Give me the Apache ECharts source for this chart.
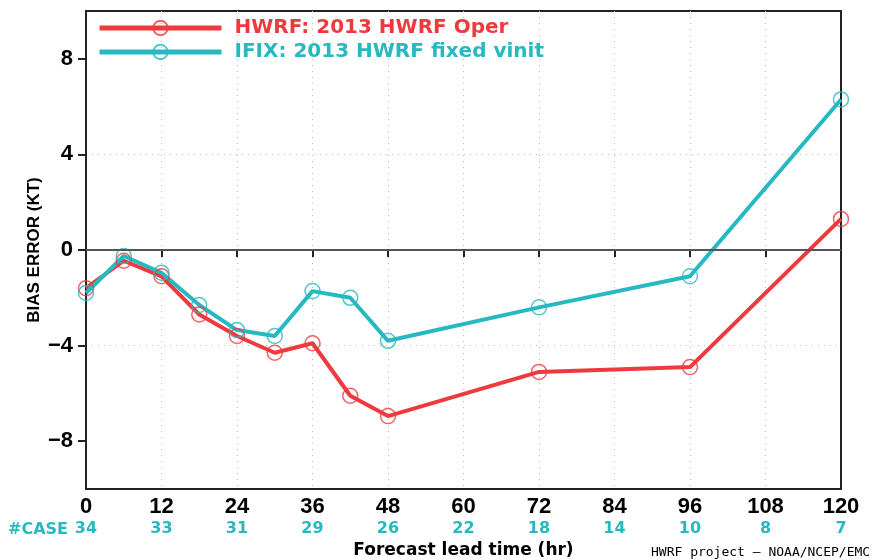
<!DOCTYPE html>
<html>
<head>
<meta charset="utf-8">
<title>HWRF bias error</title>
<script src="https://cdn.jsdelivr.net/npm/echarts@6/dist/echarts.min.js"></script>
<style>
  html, body { margin: 0; padding: 0; background: #fff; }
  #chart { width: 872px; height: 560px; }
</style>
</head>
<body>
<div id="chart"></div>
<script>
// Forecast lead times (hr) at which both runs were verified
const leadTimes = [0, 6, 12, 18, 24, 30, 36, 42, 48, 72, 96, 120];
// Intensity bias error (kt)
const hwrfOper = [-1.6, -0.45, -1.1, -2.7, -3.6, -4.3, -3.9, -6.1, -6.95, -5.1, -4.9, 1.3];
const ifixVinit = [-1.8, -0.25, -0.95, -2.3, -3.35, -3.6, -1.72, -2.0, -3.8, -2.4, -1.1, 6.3];
// Tick positions and number of verifying cases under each x tick
const xTicks = [0, 12, 24, 36, 48, 60, 72, 84, 96, 108, 120];
const caseCounts = [34, 33, 31, 29, 26, 22, 18, 14, 10, 8, 7];
const yTicks = [-8, -4, 0, 4, 8];

const RED = '#ee3a3e';
const CYAN = '#27b9c1';

const pairs = (xs, ys) => xs.map((x, i) => [x, ys[i]]);

const chart = echarts.init(document.getElementById('chart'));

const tickFont = { fontFamily: 'Liberation Sans', fontWeight: 'bold', fontSize: 22, color: '#000' };

function lineSeries(name, color, values) {
  return {
    name: name,
    type: 'line',
    data: pairs(leadTimes, values),
    symbol: 'circle',
    symbolSize: 15,
    showSymbol: true,
    lineStyle: { color: color, width: 4 },
    itemStyle: { color: 'rgba(255,255,255,0)', borderColor: color, borderWidth: 1.5, opacity: 0.8 },
    emphasis: { disabled: true },
    animation: false
  };
}

const seriesOper = lineSeries('HWRF: 2013 HWRF Oper', RED, hwrfOper);
seriesOper.markLine = {
  silent: true,
  symbol: 'none',
  label: { show: false },
  lineStyle: { color: '#555', width: 2, type: 'solid' },
  data: [{ yAxis: 0 }]
};
const seriesIfix = lineSeries('IFIX: 2013 HWRF fixed vinit', CYAN, ifixVinit);

const gridLine = { show: true, showMinLine: false, showMaxLine: false, lineStyle: { color: '#bbb', width: 1, type: [1, 5] } };

chart.setOption({
  backgroundColor: '#fff',
  animation: false,
  grid: {
    left: 86, right: 31, top: 11, bottom: 71,
    outerBoundsMode: 'none',
    containLabel: false,
    show: true, borderColor: '#222', borderWidth: 2, backgroundColor: 'transparent'
  },
  legend: {
    left: 97, top: 18,
    padding: 0,
    orient: 'vertical',
    itemWidth: 122, itemHeight: 18, itemGap: 4,
    selectedMode: false,
    lineStyle: { width: 5 },
    textStyle: { fontFamily: 'DejaVu Sans', fontWeight: 'bold', fontSize: 20, padding: [0, 0, 0, 8] },
    data: [
      { name: 'HWRF: 2013 HWRF Oper', textStyle: { color: RED } },
      { name: 'IFIX: 2013 HWRF fixed vinit', textStyle: { color: CYAN } }
    ]
  },
  xAxis: {
    type: 'value',
    min: 0, max: 120, interval: 12,
    axisLine: { show: true, lineStyle: { color: '#222', width: 2 } },
    axisTick: { show: true, inside: false, length: 7, lineStyle: { color: '#222', width: 2 } },
    splitLine: gridLine,
    axisLabel: {
      margin: 7,
      formatter: function (v) {
        const i = xTicks.indexOf(v);
        return '{t|' + v + '}\n{c|' + (i >= 0 ? caseCounts[i] : '') + '}';
      },
      rich: {
        t: Object.assign({ lineHeight: 22 }, tickFont),
        c: { fontFamily: 'DejaVu Sans', fontWeight: 'bold', fontSize: 16, color: CYAN, lineHeight: 22 }
      }
    },
    name: 'Forecast lead time (hr)',
    nameLocation: 'middle',
    nameGap: 53,
    nameMoveOverlap: false,
    nameTextStyle: { fontFamily: 'DejaVu Sans', fontWeight: 'bold', fontSize: 17, color: '#000' }
  },
  yAxis: {
    type: 'value',
    min: -10, max: 10,
    axisLine: { show: true, lineStyle: { color: '#222', width: 2 } },
    axisTick: { show: true, inside: false, length: 8, customValues: yTicks, lineStyle: { color: '#222', width: 2 } },
    splitLine: gridLine,
    axisLabel: Object.assign({
      margin: 13,
      customValues: yTicks,
      formatter: function (v) { return v < 0 ? '\u2212' + Math.abs(v) : String(v); }
    }, tickFont),
    name: 'BIAS ERROR (KT)',
    nameLocation: 'middle',
    nameGap: 43,
    nameMoveOverlap: false,
    nameRotate: 90,
    nameTextStyle: { fontFamily: 'Liberation Sans', fontWeight: 'bold', fontSize: 17, color: '#000' }
  },
  graphic: [
    {
      type: 'text', left: 8, top: 522,
      style: { text: '#CASE', fill: CYAN, font: 'bold 16px "DejaVu Sans"' }
    },
    {
      type: 'text', left: 651, top: 546,
      style: { text: 'HWRF project \u2014 NOAA/NCEP/EMC', fill: '#000', font: '13px "DejaVu Sans Mono"' }
    }
  ],
  series: [seriesOper, seriesIfix]
});
</script>
</body>
</html>
